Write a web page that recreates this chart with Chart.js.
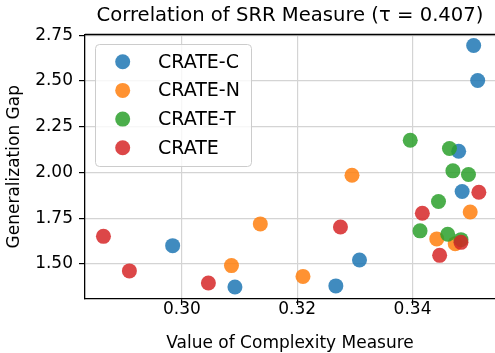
<!DOCTYPE html>
<html>
<head>
<meta charset="utf-8">
<script src="https://cdn.jsdelivr.net/npm/chart.js@4/dist/chart.umd.min.js"></script>
<style>
  html, body { margin: 0; padding: 0; background: #fff; overflow: hidden; }
  #wrap { width: 495px; height: 353px; }
</style>
</head>
<body>
<div id="wrap"><canvas id="chart" width="495" height="353"></canvas></div>
<script>
const seriesNames = ["CRATE-C", "CRATE-N", "CRATE-T", "CRATE"];
const seriesColors = ["rgba(31,119,180,0.85)", "rgba(255,127,14,0.85)", "rgba(44,160,44,0.85)", "rgba(214,39,40,0.85)"];

// complexity measure (x) and generalization gap (y), per model
const crateC_x = [0.2984, 0.3092, 0.3267, 0.3308, 0.3480, 0.3486, 0.3506, 0.3513];
const crateC_y = [1.600, 1.374, 1.380, 1.522, 2.116, 1.896, 2.694, 2.503];
const crateN_x = [0.3086, 0.3136, 0.3210, 0.3295, 0.3442, 0.3474, 0.3500];
const crateN_y = [1.491, 1.719, 1.432, 1.985, 1.637, 1.611, 1.784];
const crateT_x = [0.3396, 0.3413, 0.3445, 0.3461, 0.3464, 0.3470, 0.3484, 0.3497];
const crateT_y = [2.176, 1.681, 1.841, 1.662, 2.131, 2.009, 1.633, 1.989];
const crate_x = [0.2864, 0.2909, 0.3046, 0.3275, 0.3417, 0.3447, 0.3484, 0.3515];
const crate_y = [1.651, 1.462, 1.396, 1.702, 1.777, 1.547, 1.618, 1.892];

const xTicks = [0.30, 0.32, 0.34];
const yTicks = [1.50, 1.75, 2.00, 2.25, 2.50, 2.75];

const toPoints = (xs, ys) => xs.map((x, i) => ({ x: x, y: ys[i] }));
const seriesData = [
  toPoints(crateC_x, crateC_y),
  toPoints(crateN_x, crateN_y),
  toPoints(crateT_x, crateT_y),
  toPoints(crate_x, crate_y)
];

const FONT = "'DejaVu Sans', sans-serif";

// top spine + legend box drawn inside the plot area
const framePlugin = {
  id: "frame",
  afterDraw(chart) {
    const ctx = chart.ctx;
    const a = chart.chartArea;
    ctx.save();
    ctx.strokeStyle = "#000";
    ctx.lineWidth = 1.3;
    ctx.beginPath();
    ctx.moveTo(a.left, a.top);
    ctx.lineTo(a.right + 2, a.top);
    ctx.stroke();

    const bx = 95, by = 44, bw = 156, bh = 122;
    ctx.fillStyle = "rgba(255,255,255,0.8)";
    ctx.strokeStyle = "#cccccc";
    ctx.lineWidth = 1;
    ctx.beginPath();
    ctx.roundRect(bx + 0.5, by + 0.5, bw, bh, 4);
    ctx.fill();
    ctx.stroke();

    ctx.font = "19px " + FONT;
    ctx.textBaseline = "middle";
    chart.data.datasets.forEach((ds, i) => {
      const cy = 61.7 + i * 28.7;
      ctx.fillStyle = ds.backgroundColor;
      ctx.beginPath();
      ctx.arc(122.7, cy, 7.5, 0, Math.PI * 2);
      ctx.fill();
      ctx.fillStyle = "#000";
      ctx.fillText(ds.label, 158, cy + 1);
    });
    ctx.restore();
  }
};

new Chart(document.getElementById("chart"), {
  type: "scatter",
  data: {
    datasets: seriesNames.map((name, i) => ({
      label: name,
      data: seriesData[i],
      backgroundColor: seriesColors[i],
      borderWidth: 0,
      pointRadius: 7.5,
      pointHoverRadius: 7.5,
      order: 4 - i
    }))
  },
  options: {
    responsive: false,
    animation: false,
    events: [],
    layout: { autoPadding: false, padding: { left: 0, right: 0, top: 0, bottom: 0 } },
    plugins: {
      legend: { display: false },
      tooltip: { enabled: false },
      title: {
        display: true,
        fullSize: false,
        text: "Correlation of SRR Measure (\u03C4 = 0.407)",
        color: "#000",
        font: { family: FONT, size: 19.6, weight: "normal", lineHeight: 1.2 },
        padding: { top: 4, bottom: 7 }
      }
    },
    scales: {
      x: {
        type: "linear",
        min: 0.2832,
        max: 0.3543,
        afterBuildTicks: s => { s.ticks = xTicks.map(v => ({ value: v })); },
        afterFit: s => { s.height = 54; s.paddingLeft = 0; s.paddingRight = 0; },
        ticks: {
          color: "#000",
          font: { family: FONT, size: 17 },
          padding: -6,
          callback: v => v.toFixed(2)
        },
        grid: { color: "#d4d4d4", lineWidth: 1.2, tickColor: "#000", tickLength: 6, tickWidth: 1.2 },
        border: { color: "#000", width: 1.3 },
        title: {
          display: true,
          text: "Value of Complexity Measure",
          color: "#000",
          font: { family: FONT, size: 17, lineHeight: 1.2 },
          padding: { top: 0, bottom: -1 }
        }
      },
      y: {
        type: "linear",
        min: 1.3085,
        max: 2.754,
        afterBuildTicks: s => { s.ticks = yTicks.map(v => ({ value: v })); },
        afterFit: s => { s.width = 85; s.paddingTop = 0; s.paddingBottom = 0; },
        ticks: {
          color: "#000",
          font: { family: FONT, size: 17 },
          padding: 6,
          callback: v => v.toFixed(2)
        },
        grid: { color: "#d4d4d4", lineWidth: 1.2, tickColor: "#000", tickLength: 6, tickWidth: 1.2 },
        border: { color: "#000", width: 1.3 },
        title: {
          display: true,
          text: "Generalization Gap",
          color: "#000",
          font: { family: FONT, size: 17, lineHeight: 1.2 },
          padding: { top: 4, bottom: 0 }
        }
      }
    }
  },
  plugins: [framePlugin]
});
</script>
</body>
</html>
